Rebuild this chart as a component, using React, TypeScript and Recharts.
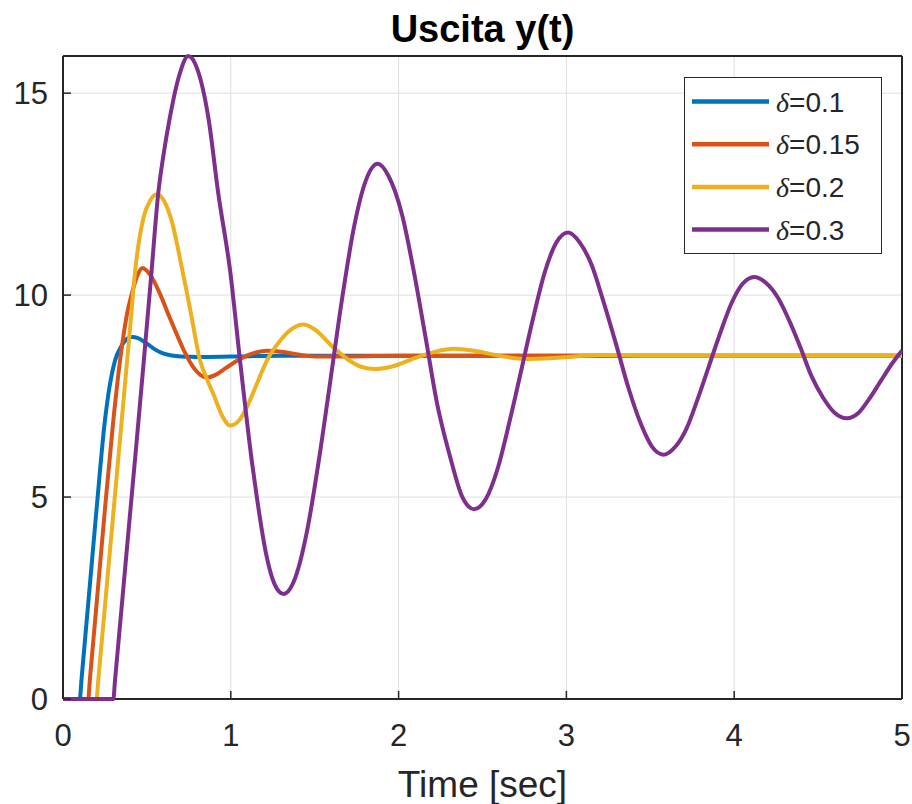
import React from "react";
import {
  LineChart,
  Line,
  XAxis,
  YAxis,
  CartesianGrid,
  Legend,
} from "recharts";

// time [s] and output values
const t01 = [0, 0.1, 0.11, 0.15, 0.2, 0.25, 0.28, 0.31, 0.35, 0.41, 0.45, 0.5, 0.55, 0.6, 0.7, 0.8, 1.0, 1.3, 5];
const y01 = [0, 0, 0.47, 2.35, 4.7, 6.9, 7.8, 8.38, 8.75, 8.96, 8.93, 8.8, 8.65, 8.55, 8.48, 8.47, 8.48, 8.5, 8.5];

const t015 = [0, 0.15, 0.16, 0.2, 0.25, 0.3, 0.34, 0.38, 0.41, 0.44, 0.474, 0.52, 0.578, 0.63, 0.677, 0.73, 0.777, 0.82, 0.857, 0.92, 0.976, 1.04, 1.095, 1.15, 1.215, 1.3, 1.4, 1.5, 1.7, 2.0, 5];
const y015 = [0, 0, 0.47, 2.35, 4.7, 6.9, 8.38, 9.5, 10.03, 10.45, 10.67, 10.5, 10.03, 9.5, 9.04, 8.55, 8.21, 8.02, 7.96, 8.05, 8.21, 8.38, 8.5, 8.58, 8.62, 8.6, 8.53, 8.48, 8.48, 8.5, 8.5];

const t02 = [0, 0.2, 0.21, 0.25, 0.3, 0.35, 0.4, 0.43, 0.48, 0.52, 0.56, 0.6, 0.65, 0.7, 0.76, 0.817, 0.86, 0.896, 0.95, 0.996, 1.05, 1.095, 1.15, 1.215, 1.3, 1.36, 1.434, 1.5, 1.61, 1.7, 1.78, 1.86, 1.95, 2.11, 2.22, 2.33, 2.45, 2.6, 2.75, 2.95, 3.2, 3.5, 5];
const y02 = [0, 0, 0.46, 2.3, 4.6, 6.9, 9.2, 10.6, 11.92, 12.35, 12.5, 12.35, 11.8, 10.85, 9.6, 8.38, 7.9, 7.55, 7.0, 6.77, 6.9, 7.22, 7.75, 8.38, 8.9, 9.15, 9.27, 9.15, 8.71, 8.4, 8.22, 8.17, 8.22, 8.46, 8.6, 8.67, 8.62, 8.5, 8.42, 8.45, 8.52, 8.5, 8.5];

const t03 = [0, 0.3, 0.31, 0.35, 0.4, 0.434, 0.48, 0.528, 0.567, 0.6, 0.637, 0.69, 0.747, 0.8, 0.866, 0.926, 0.996, 1.055, 1.125, 1.155, 1.21, 1.26, 1.314, 1.384, 1.454, 1.524, 1.595, 1.665, 1.735, 1.805, 1.875, 1.94, 2.02, 2.09, 2.16, 2.23, 2.31, 2.38, 2.45, 2.52, 2.59, 2.66, 2.73, 2.8, 2.87, 2.94, 3.01, 3.08, 3.15, 3.22, 3.295, 3.37, 3.44, 3.51, 3.58, 3.65, 3.715, 3.78, 3.85, 3.92, 3.985, 4.05, 4.12, 4.19, 4.26, 4.33, 4.395, 4.46, 4.53, 4.6, 4.67, 4.74, 4.8, 4.87, 4.94, 5];
const y03 = [0, 0, 0.46, 2.3, 4.6, 6.15, 8.3, 10.6, 12.5, 13.5, 14.4, 15.4, 15.92, 15.6, 14.4, 12.5, 10.6, 8.38, 5.9, 5.0, 3.6, 2.85, 2.6, 3.0, 4.15, 5.89, 7.93, 9.96, 11.7, 12.84, 13.25, 12.95, 12.0, 10.6, 8.97, 7.3, 5.95, 5.0, 4.7, 4.95, 5.7, 6.85, 8.12, 9.4, 10.55, 11.3, 11.55, 11.3, 10.75, 9.85, 8.8, 7.7, 6.85, 6.25, 6.05, 6.25, 6.69, 7.4, 8.25, 9.1, 9.81, 10.28, 10.45, 10.3, 9.94, 9.35, 8.7, 8.0, 7.46, 7.08, 6.95, 7.08, 7.4, 7.85, 8.3, 8.63];

const xTicks = [0, 1, 2, 3, 4, 5];
const yTicks = [0, 5, 10, 15];
const deltas = ["0.1", "0.15", "0.2", "0.3"];
const colors = ["#0072BD", "#D95319", "#EDB120", "#7E2F8E"];

const toPoints = (ts: number[], ys: number[]) => ts.map((t, i) => ({ t, y: ys[i] }));

const series = [
  toPoints(t01, y01),
  toPoints(t015, y015),
  toPoints(t02, y02),
  toPoints(t03, y03),
];

const FONT = "'Liberation Sans', Arial, Helvetica, sans-serif";
const AXIS = "#262626";

function BottomTick({ x, y, payload }: any) {
  return (
    <g>
      <line x1={x} x2={x} y1={y} y2={y - 8} stroke={AXIS} strokeWidth={1.5} />
      <text x={x} y={y + 47} textAnchor="middle" fontSize={31} fontFamily={FONT} fill={AXIS}>
        {payload.value}
      </text>
    </g>
  );
}

function TopTick({ x, y }: any) {
  return <line x1={x} x2={x} y1={y} y2={y + 8} stroke={AXIS} strokeWidth={1.5} />;
}

function LeftTick({ x, y, payload }: any) {
  return (
    <g>
      <line x1={x} x2={x + 8} y1={y} y2={y} stroke={AXIS} strokeWidth={1.5} />
      <text x={x - 15} y={y + 11} textAnchor="end" fontSize={31} fontFamily={FONT} fill={AXIS}>
        {payload.value}
      </text>
    </g>
  );
}

function RightTick({ x, y }: any) {
  return <line x1={x} x2={x - 8} y1={y} y2={y} stroke={AXIS} strokeWidth={1.5} />;
}

function XLabel({ viewBox }: any) {
  const cx = viewBox.x + viewBox.width / 2;
  return (
    <text x={cx} y={797} textAnchor="middle" fontSize={37} fontFamily={FONT} fill={AXIS}>
      Time [sec]
    </text>
  );
}

function Title({ viewBox }: any) {
  const cx = viewBox.x + viewBox.width / 2;
  return (
    <text x={cx} y={42} textAnchor="middle" fontSize={38} fontWeight="bold" fontFamily={FONT} fill="#000">
      Uscita y(t)
    </text>
  );
}

function LegendBox() {
  return (
    <div
      style={{
        width: 198,
        height: 177,
        boxSizing: "border-box",
        border: `1.5px solid ${AXIS}`,
        background: "#fff",
      }}
    >
      <svg width={195} height={174}>
        {deltas.map((d, i) => {
          const cy = 23.5 + i * 42.7;
          return (
            <g key={d}>
              <line x1={7} x2={84} y1={cy} y2={cy} stroke={colors[i]} strokeWidth={4.5} />
              <text x={91} y={cy + 10} fontSize={28} fill={AXIS}>
                <tspan fontFamily="'Liberation Serif', 'DejaVu Serif', serif" fontStyle="italic">
                  δ
                </tspan>
                <tspan fontFamily={FONT}>={d}</tspan>
              </text>
            </g>
          );
        })}
      </svg>
    </div>
  );
}

export default function App() {
  const axisProps: any = { zIndex: -50 };
  return (
    <div style={{ position: "absolute", left: 0, top: 0, background: "#fff" }}>
      <LineChart width={912} height={804} margin={{ top: 55, right: 9, bottom: 0, left: 0 }}>
        <CartesianGrid
          stroke="#dfdfdf"
          strokeWidth={1}
          horizontalValues={yTicks}
          verticalValues={xTicks}
        />
        <XAxis
          {...axisProps}
          dataKey="t"
          type="number"
          domain={[0, 5]}
          ticks={xTicks}
          height={105}
          tickSize={0}
          tickMargin={0}
          tickLine={false}
          tick={<BottomTick />}
          axisLine={{ stroke: AXIS, strokeWidth: 2 }}
          label={<XLabel />}
        />
        <XAxis
          {...axisProps}
          xAxisId="top"
          orientation="top"
          dataKey="t"
          type="number"
          domain={[0, 5]}
          ticks={xTicks}
          height={1}
          tickSize={0}
          tickMargin={0}
          tickLine={false}
          tick={<TopTick />}
          axisLine={{ stroke: AXIS, strokeWidth: 2 }}
          label={<Title />}
        />
        <YAxis
          {...axisProps}
          type="number"
          domain={[0, 15.92]}
          ticks={yTicks}
          width={63}
          tickSize={0}
          tickMargin={0}
          tickLine={false}
          tick={<LeftTick />}
          axisLine={{ stroke: AXIS, strokeWidth: 2 }}
        />
        <YAxis
          {...axisProps}
          yAxisId="right"
          orientation="right"
          type="number"
          domain={[0, 15.92]}
          ticks={yTicks}
          width={1}
          tickSize={0}
          tickMargin={0}
          tickLine={false}
          tick={<RightTick />}
          axisLine={{ stroke: AXIS, strokeWidth: 2 }}
        />
        <Legend
          layout="vertical"
          align="center"
          verticalAlign="middle"
          wrapperStyle={{ left: 684, top: 77, width: 198, height: 177 }}
          content={<LegendBox />}
        />
        {series.map((data, i) => (
          <Line
            key={deltas[i]}
            data={data}
            dataKey="y"
            name={`δ=${deltas[i]}`}
            type="monotone"
            stroke={colors[i]}
            strokeWidth={4}
            dot={false}
            activeDot={false}
            isAnimationActive={false}
          />
        ))}
      </LineChart>
    </div>
  );
}
